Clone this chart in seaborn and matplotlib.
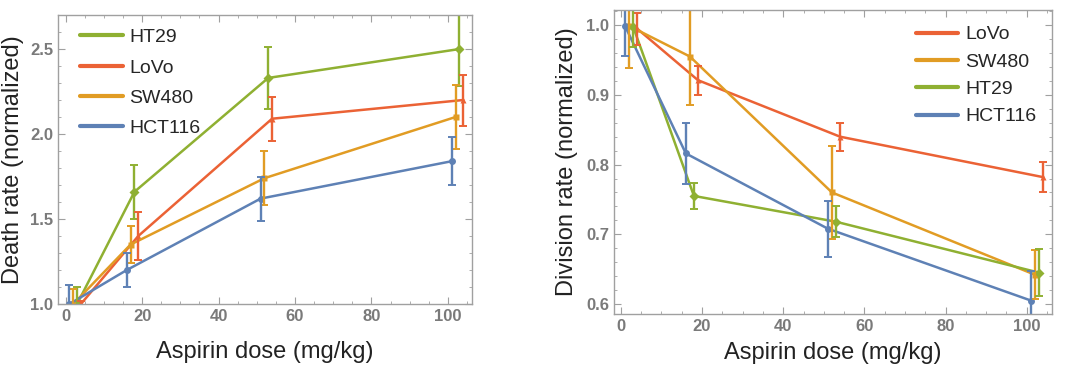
import numpy as np
import pandas as pd
import matplotlib
matplotlib.use('Agg')
import matplotlib.pyplot as plt
import seaborn as sns
from matplotlib.lines import Line2D
from matplotlib.ticker import MultipleLocator

# colours (Mathematica default style)
colors = {'HCT116': '#5E81B5', 'SW480': '#E19C24', 'HT29': '#8FB032', 'LoVo': '#EB6235'}
markers = {'HCT116': 'o', 'SW480': 's', 'HT29': 'D', 'LoVo': '^'}

# ---- death rate (left panel) ----
death_dose = {'HCT116': [1, 16, 51, 101],
              'SW480': [2, 17, 52, 102],
              'HT29': [3, 18, 53, 103],
              'LoVo': [4, 19, 54, 104]}
death_rate = {'HCT116': [1.0, 1.20, 1.62, 1.84],
              'SW480': [1.0, 1.35, 1.74, 2.10],
              'HT29': [1.0, 1.66, 2.33, 2.50],
              'LoVo': [1.0, 1.40, 2.09, 2.20]}
death_err = {'HCT116': [0.11, 0.10, 0.13, 0.14],
             'SW480': [0.09, 0.11, 0.16, 0.19],
             'HT29': [0.10, 0.16, 0.18, 0.22],
             'LoVo': [0.02, 0.14, 0.13, 0.15]}
death_order = ['HT29', 'LoVo', 'SW480', 'HCT116']

# ---- division rate (right panel) ----
div_dose = {'HCT116': [1, 16, 51, 101],
            'SW480': [2, 17, 52, 102],
            'HT29': [3, 18, 53, 103],
            'LoVo': [4, 19, 54, 104]}
div_rate = {'HCT116': [0.999, 0.816, 0.708, 0.605],
            'SW480': [0.999, 0.955, 0.760, 0.642],
            'HT29': [0.998, 0.755, 0.718, 0.645],
            'LoVo': [0.995, 0.921, 0.840, 0.782]}
div_err = {'HCT116': [0.043, 0.044, 0.040, 0.043],
           'SW480': [0.060, 0.069, 0.067, 0.035],
           'HT29': [0.030, 0.019, 0.022, 0.034],
           'LoVo': [0.023, 0.021, 0.020, 0.021]}
div_order = ['LoVo', 'SW480', 'HT29', 'HCT116']

sns.set_style('ticks')
plt.rcParams['font.family'] = ['Liberation Sans', 'DejaVu Sans']

fig = plt.figure(figsize=(10.8, 3.76), dpi=100)
ax1 = fig.add_axes([0.0537, 0.1915, 0.3833, 0.7685])
ax2 = fig.add_axes([0.5685, 0.165, 0.4055, 0.808])


def draw(ax, dose, rate, err, order):
    rows = []
    for name in order:
        for d, r in zip(dose[name], rate[name]):
            rows.append({'dose': d, 'rate': r, 'line': name})
    df = pd.DataFrame(rows)
    sns.lineplot(data=df, x='dose', y='rate', hue='line', style='line',
                 hue_order=order, style_order=order, palette=colors,
                 markers=markers, dashes=False, sort=False, estimator=None,
                 lw=1.8, ms=5, mec='none', legend=False, ax=ax)
    for name in order:
        ax.errorbar(dose[name], rate[name], yerr=err[name], fmt='none',
                    ecolor=colors[name], elinewidth=1.7, capsize=3,
                    capthick=1.4)
    for s in ax.spines.values():
        s.set_color('#a0a0a0')
        s.set_linewidth(1.0)
    ax.tick_params(which='both', direction='in', top=True, right=True,
                   color='#a0a0a0', labelcolor='#7a7a7a', labelsize=12)
    ax.tick_params(which='major', length=5)
    ax.tick_params(which='minor', length=2.5)
    ax.xaxis.set_major_locator(MultipleLocator(20))
    ax.xaxis.set_minor_locator(MultipleLocator(5))
    handles = [Line2D([], [], color=colors[n], lw=3) for n in order]
    return handles


h1 = draw(ax1, death_dose, death_rate, death_err, death_order)
ax1.set_xlim(-2, 106.3)
ax1.set_ylim(1.0, 2.7)
ax1.yaxis.set_major_locator(MultipleLocator(0.5))
ax1.yaxis.set_minor_locator(MultipleLocator(0.1))
ax1.set_xlabel('Aspirin dose (mg/kg)', fontsize=17, color='#222222', labelpad=12)
ax1.set_ylabel('Death rate (normalized)', fontsize=17, color='#222222', labelpad=4)
ax1.legend(h1, death_order, loc='upper left', frameon=False, fontsize=14,
           handlelength=2.2, labelspacing=0.65, handletextpad=0.35,
           borderaxespad=0.3, bbox_to_anchor=(0.02, 1.0))

h2 = draw(ax2, div_dose, div_rate, div_err, div_order)
ax2.set_xlim(-1.7, 106.2)
ax2.set_ylim(0.5857, 1.0215)
ax2.yaxis.set_major_locator(MultipleLocator(0.1))
ax2.yaxis.set_minor_locator(MultipleLocator(0.02))
ax2.set_xlabel('Aspirin dose (mg/kg)', fontsize=17, color='#222222', labelpad=6)
ax2.set_ylabel('Division rate (normalized)', fontsize=17, color='#222222', labelpad=6)
ax2.legend(h2, div_order, loc='upper right', frameon=False, fontsize=14,
           handlelength=2.2, labelspacing=0.5, handletextpad=0.35,
           borderaxespad=0.4, bbox_to_anchor=(1.0, 1.0))

for ax in (ax1, ax2):
    for lab in ax.get_xticklabels() + ax.get_yticklabels():
        lab.set_fontweight('bold')

fig.savefig('out.png', dpi=100)
